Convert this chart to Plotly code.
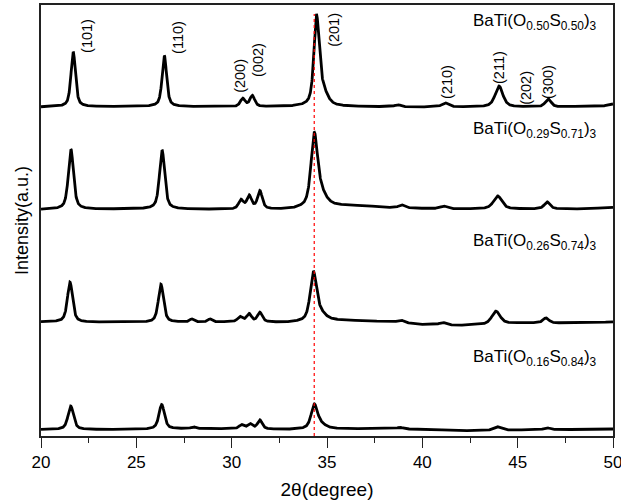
import numpy as np
import plotly.graph_objects as go

# ---------------- data (intensity in a.u.) ----------------
two_theta = np.linspace(20, 50, 3001)

sample_names = [
    "BaTi(O<sub>0.50</sub>S<sub>0.50</sub>)<sub>3</sub>",
    "BaTi(O<sub>0.29</sub>S<sub>0.71</sub>)<sub>3</sub>",
    "BaTi(O<sub>0.26</sub>S<sub>0.74</sub>)<sub>3</sub>",
    "BaTi(O<sub>0.16</sub>S<sub>0.84</sub>)<sub>3</sub>",
]

# background knots (2theta, intensity) for each pattern (stacked offsets included)
bg_x = [
    [20, 25, 30, 35, 40, 47, 49.5, 50],
    [20, 25, 30, 33, 35.5, 37, 38, 40, 42, 45, 48, 50],
    [20, 25, 30, 33, 35.5, 37, 38.5, 40, 42, 43, 45, 48, 50],
    [20, 25, 28, 30, 33, 35, 38, 40, 42, 43.5, 45, 48, 50],
]
bg_y = [
    [329, 329.5, 329, 329.5, 329, 329, 330, 332],
    [226.5, 227, 226.5, 226.5, 230, 230, 228.5, 227.5, 227, 227, 227, 228.5],
    [114, 113.5, 114, 113.5, 115.5, 115, 114, 111.5, 110.5, 111, 113, 113, 114],
    [6.5, 6.5, 7.5, 7, 6.5, 7, 7.5, 6.5, 5.5, 5, 6, 6.5, 7],
]

# peaks: position (deg), height (a.u.), FWHM (deg)
peak_pos = [
    [21.69, 26.47, 30.58, 31.08, 34.45, 34.75, 38.70, 41.19, 44.02, 46.60],
    [21.57, 26.35, 30.49, 30.92, 31.48, 34.33, 34.65, 38.91, 41.13, 43.95, 46.55],
    [21.52, 26.29, 27.90, 28.86, 30.44, 30.91, 31.48, 34.28, 34.60, 38.88, 41.06, 43.86, 46.48],
    [21.56, 26.33, 28.00, 30.52, 30.96, 31.48, 34.33, 34.60, 38.83, 43.90, 46.53],
]
peak_height = [
    [55, 51, 8, 11, 84, 15, 2, 4, 21, 8],
    [60, 59, 9, 13, 18, 68, 13, 3, 2.5, 13, 7],
    [40, 38, 3, 3, 5, 8, 9.5, 46, 8, 2.5, 2.5, 13, 5],
    [23.5, 24.5, 1.5, 4, 5, 9, 22, 5, 1.5, 4, 2],
]
peak_fwhm = [
    [0.28, 0.28, 0.30, 0.30, 0.32, 0.60, 0.35, 0.40, 0.48, 0.36],
    [0.32, 0.32, 0.30, 0.30, 0.30, 0.40, 0.70, 0.35, 0.40, 0.52, 0.36],
    [0.32, 0.32, 0.25, 0.25, 0.30, 0.30, 0.30, 0.38, 0.70, 0.35, 0.40, 0.52, 0.36],
    [0.34, 0.34, 0.25, 0.30, 0.30, 0.30, 0.38, 0.70, 0.35, 0.52, 0.36],
]

hkl_labels = ["(101)", "(110)", "(200)", "(002)", "(201)", "(210)", "(211)", "(202)", "(300)"]
hkl_x = [22.41, 27.18, 30.43, 31.38, 35.36, 41.29, 44.02, 45.43, 46.59]
hkl_y = [400, 399, 360, 376, 406, 354, 369, 348, 354]

label_x = 49.25
label_y = [414, 306, 194, 78]

ref_line_x = 34.33


def pseudo_voigt(x, x0, h, w, eta=0.6):
    g = np.exp(-4 * np.log(2) * ((x - x0) / w) ** 2)
    lo = 1.0 / (1.0 + 4 * ((x - x0) / w) ** 2)
    return h * (eta * lo + (1 - eta) * g)


fig = go.Figure()
for i in range(4):
    y = np.interp(two_theta, bg_x[i], bg_y[i])
    for p, h, w in zip(peak_pos[i], peak_height[i], peak_fwhm[i]):
        y = y + pseudo_voigt(two_theta, p, h, w)
    fig.add_trace(go.Scatter(x=two_theta, y=y, mode="lines",
                             line=dict(color="black", width=2.8),
                             showlegend=False, hoverinfo="skip"))

# dotted red reference line
fig.add_trace(go.Scatter(x=[ref_line_x, ref_line_x], y=[0, 422], mode="lines",
                         line=dict(color="#ff0000", width=1.2, dash="dot"),
                         showlegend=False, hoverinfo="skip"))

font_family = "Liberation Sans, Arial, sans-serif"

for t, x, y in zip(hkl_labels, hkl_x, hkl_y):
    fig.add_annotation(x=x, y=y, text=t, textangle=-90, showarrow=False,
                       font=dict(family=font_family, size=14.5, color="black"),
                       xanchor="center", yanchor="middle")

for t, y in zip(sample_names, label_y):
    fig.add_annotation(x=label_x, y=y, text=t, showarrow=False,
                       font=dict(family=font_family, size=17, color="black"),
                       xanchor="right", yanchor="middle")

fig.update_layout(
    width=621, height=504,
    margin=dict(l=41, r=8, t=5, b=68, autoexpand=False),
    plot_bgcolor="white", paper_bgcolor="white",
    font=dict(family=font_family, color="black"),
    xaxis=dict(range=[20, 50], dtick=5, tick0=20, ticks="outside", ticklen=10,
               tickwidth=1.3, tickcolor="#222", showline=True, linecolor="#222",
               linewidth=1.5, mirror=True, showgrid=False, zeroline=False,
               ticklabeloverflow="allow", automargin=False,
               tickfont=dict(size=17, family=font_family),
               minor=dict(dtick=2.5, ticks="outside", ticklen=5, tickwidth=1.3,
                          tickcolor="#222"),
               title=dict(text="2θ(degree)", font=dict(size=19, family=font_family),
                          standoff=12)),
    yaxis=dict(range=[0, 431], showticklabels=False, ticks="", showline=True,
               linecolor="#222", linewidth=1.5, mirror=True, showgrid=False,
               zeroline=False, automargin=False,
               title=dict(text="Intensity(a.u.)", font=dict(size=18, family=font_family),
                          standoff=6)),
)

fig.write_html("out.html")
